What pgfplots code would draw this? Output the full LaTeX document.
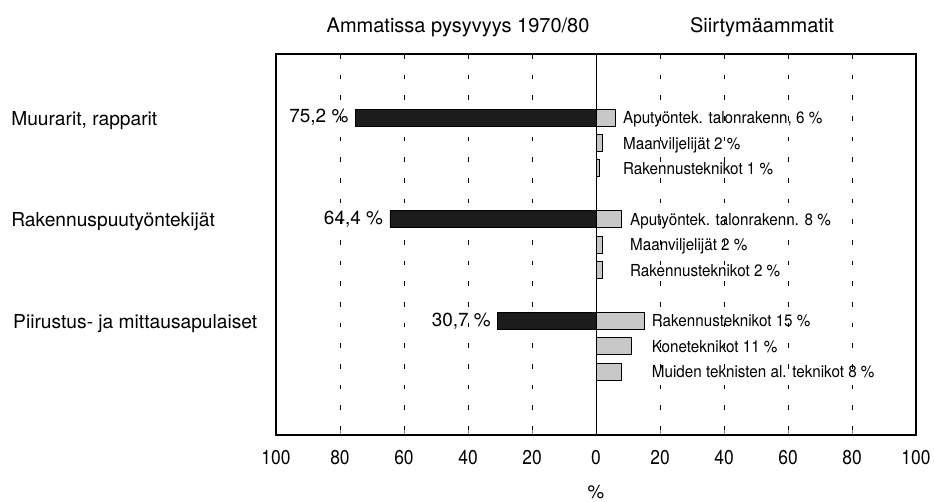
\documentclass[border=0pt]{standalone}
\usepackage{pgfplots}
\pgfplotsset{compat=1.18}
\usepackage{fontspec}
\setmainfont{TeX Gyre Heros}
\newfontfamily\tickfont{TeX Gyre Heros}[FakeStretch=0.87]
\newfontfamily\subfont{TeX Gyre Heros}[FakeStretch=0.92]
\definecolor{barlight}{RGB}{200,200,200}
\definecolor{bardark}{RGB}{28,28,28}
\begin{document}
\begin{tikzpicture}[x=1pt,y=1pt]
\useasboundingbox (-207,-49.5) rectangle (493.5,326.25);
\begin{axis}[
  at={(0,0)}, anchor=south west,
  width=480pt, height=285.75pt, scale only axis,
  xmin=-100, xmax=100, ymin=-2.5, ymax=12.5, y dir=reverse,
  xtick={-100,-80,...,100},
  xticklabels={100,80,60,40,20,0,20,40,60,80,100},
  xtick pos=left,
  ytick=\empty,
  tick align=inside, major tick length=4pt,
  xmajorgrids,
  grid style={black, line width=0.5pt, dash pattern=on 3.5pt off 12pt},
  axis line style={line width=0.8pt},
  xbar, bar width=12.75pt, bar shift=0pt,
  clip=false,
  /pgf/number format/assume math mode=true,
  xticklabel style={font=\tickfont\fontsize{15}{15}\selectfont, anchor=north, inner sep=0pt, yshift=-11pt},
]
% main bars: staying in the occupation (plotted to the left)
\addplot[draw=black, fill=bardark, line width=0.5pt,
  nodes near coords, point meta=explicit symbolic,
  every node near coord/.append style={anchor=east, inner sep=0pt, xshift=-5pt, font=\fontsize{14.2}{14.2}\selectfont}]
  coordinates {(-75.2,0) [75,2 \%] (-64.4,4) [64,4 \%] (-30.7,8) [30,7 \%]};
% transition occupations (to the right)
\addplot[draw=black, fill=barlight, line width=0.6pt]
  coordinates {(6,0) (2,1) (1,2) (8,4) (2,5) (2,6) (15,8) (11,9) (8,10)};
\draw[line width=0.6pt] (axis cs:0,-2.5) -- (axis cs:0,12.5);
% transition labels
\begin{scope}[every node/.style={anchor=base west, inner sep=0pt, font=\subfont\fontsize{12.4}{12.4}\selectfont}]
\node at (axis cs:8.4,0.24) {Aputyöntek. talonrakenn, 6 \%};
\node at (axis cs:8.4,1.24) {Maanviljelijät 2 \%};
\node at (axis cs:8.4,2.24) {Rakennusteknikot 1 \%};
\node at (axis cs:10.6,4.24) {Aputyöntek. talonrakenn. 8 \%};
\node at (axis cs:10.6,5.24) {Maanviljelijät 2 \%};
\node at (axis cs:10.6,6.24) {Rakennusteknikot 2 \%};
\node at (axis cs:17.4,8.24) {Rakennusteknikot 15 \%};
\node at (axis cs:17.4,9.24) {Koneteknikot 11 \%};
\node at (axis cs:17.4,10.24) {Muiden teknisten al. teknikot 8 \%};
\end{scope}
% category labels
\begin{scope}[every node/.style={anchor=base west, inner sep=0pt, font=\fontsize{14.4}{14.4}\selectfont}]
\node at (axis cs:-182.8,0.3) {Muurarit, rapparit};
\node at (axis cs:-182.8,4.3) {Rakennuspuutyöntekijät};
\node at (axis cs:-182.2,8.3) {Piirustus- ja mittausapulaiset};
\end{scope}
% titles
\node[anchor=base, inner sep=0pt, font=\fontsize{15}{15}\selectfont] at (axis cs:-43.1,-3.36) {Ammatissa pysyvyys 1970/80};
\node[anchor=base, inner sep=0pt, font=\fontsize{15}{15}\selectfont] at (axis cs:51.9,-3.36) {Siirtymäammatit};
% axis label
\node[anchor=center, inner sep=0pt, font=\fontsize{14}{14}\selectfont] at (axis cs:0,12.5) [yshift=-43pt] {\%};
\end{axis}
\end{tikzpicture}
\end{document}
